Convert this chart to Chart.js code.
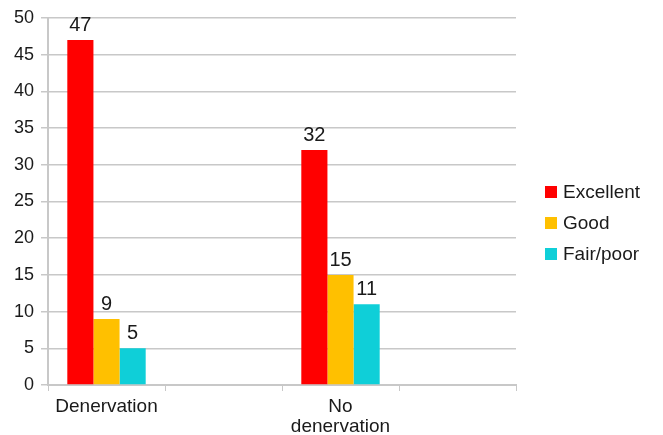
<!DOCTYPE html>
<html lang="en">
  <head>
    <meta charset="UTF-8" />
    <title>Denervation</title>
    <script src="https://cdn.jsdelivr.net/npm/chart.js"></script>
    <style>
      html, body { margin: 0; padding: 0; background: #fff; }
      #wrap { width: 663px; height: 435px; }
    </style>
  </head>
  <body>
    <div id="wrap"><canvas id="outcomeChart"></canvas></div>

    <script>
      // categories (two empty slots like the original sheet)
      const categories = ["Denervation", "", ["No", "denervation"], ""];
      const seriesNames = ["Excellent", "Good", "Fair/poor"];
      const excellent = [47, null, 32, null];
      const good = [9, null, 15, null];
      const fairPoor = [5, null, 11, null];
      const yTicks = [0, 5, 10, 15, 20, 25, 30, 35, 40, 45, 50];

      const colors = ["#FF0000", "#FFC000", "#0FCFD8"];
      const gridColor = "#c8c8c8";
      const textColor = "#1a1a1a";
      const fontFamily = "'Liberation Sans', Arial, Helvetica, sans-serif";

      // 막대 위 숫자 표시
      const valueLabels = {
        id: "valueLabels",
        afterDatasetsDraw(chart) {
          const ctx = chart.ctx;
          ctx.save();
          ctx.font = "20px " + fontFamily;
          ctx.fillStyle = textColor;
          ctx.textAlign = "center";
          ctx.textBaseline = "alphabetic";
          chart.data.datasets.forEach((ds, i) => {
            chart.getDatasetMeta(i).data.forEach((bar, j) => {
              const v = ds.data[j];
              if (v === null || v === undefined) return;
              ctx.fillText(String(v), bar.x, bar.y - 9);
            });
          });
          ctx.restore();
        },
      };

      // 오른쪽 범례
      const sideLegend = {
        id: "sideLegend",
        afterDraw(chart) {
          const ctx = chart.ctx;
          const x0 = chart.chartArea.right + 29;
          let y = chart.chartArea.top + 174;
          ctx.save();
          ctx.font = "19px " + fontFamily;
          ctx.textBaseline = "middle";
          chart.data.datasets.forEach((ds) => {
            ctx.fillStyle = ds.backgroundColor;
            ctx.fillRect(x0, y - 6, 12, 12);
            ctx.fillStyle = textColor;
            ctx.fillText(ds.label, x0 + 18, y + 1);
            y += 31;
          });
          ctx.restore();
        },
      };

      const ctx = document.getElementById("outcomeChart").getContext("2d");
      new Chart(ctx, {
        type: "bar",
        data: {
          labels: categories,
          datasets: [
            { label: seriesNames[0], data: excellent, backgroundColor: colors[0] },
            { label: seriesNames[1], data: good, backgroundColor: colors[1] },
            { label: seriesNames[2], data: fairPoor, backgroundColor: colors[2] },
          ],
        },
        options: {
          responsive: true,
          maintainAspectRatio: false,
          animation: false,
          devicePixelRatio: 1,
          layout: { padding: { top: 18, right: 147, left: 0, bottom: 0 } },
          datasets: {
            bar: { categoryPercentage: 0.67, barPercentage: 1, skipNull: false },
          },
          plugins: {
            legend: { display: false },
            tooltip: { enabled: false },
          },
          scales: {
            x: {
              grid: {
                drawOnChartArea: false,
                offset: true,
                color: gridColor,
                tickLength: 6,
              },
              border: { color: gridColor, width: 2 },
              ticks: {
                color: textColor,
                maxRotation: 0,
                autoSkip: false,
                padding: 6,
                font: { family: fontFamily, size: 19, lineHeight: 1.05 },
              },
              afterFit(scale) {
                scale.height = 50;
              },
            },
            y: {
              min: 0,
              max: 50,
              afterBuildTicks(scale) {
                scale.ticks = yTicks.map((v) => ({ value: v }));
              },
              grid: { color: gridColor, tickLength: 7, lineWidth: 1.5 },
              border: { color: gridColor, width: 2 },
              ticks: {
                color: textColor,
                padding: 7,
                font: { family: fontFamily, size: 18 },
              },
              afterFit(scale) {
                scale.width = 48;
              },
            },
          },
        },
        plugins: [valueLabels, sideLegend],
      });
    </script>
  </body>
</html>
